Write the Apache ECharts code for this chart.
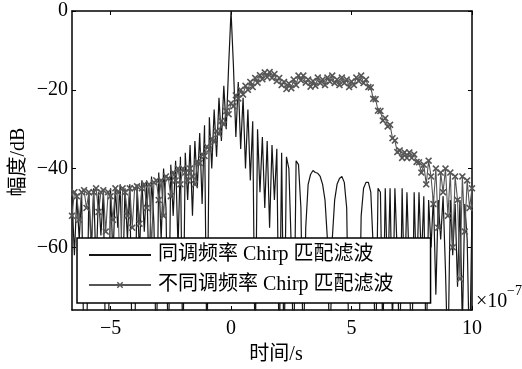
<!DOCTYPE html>
<html>
<head>
<meta charset="utf-8">
<script src="https://cdn.jsdelivr.net/npm/echarts@6/dist/echarts.min.js"></script>
<style>
  html, body { margin: 0; padding: 0; background: #fff; }
  #chart { width: 522px; height: 369px; }
</style>
</head>
<body>
<div id="chart"></div>
<script>
// Time axis in units of 1e-7 s, sampled every 0.1 from -6.6 to 10.0
const T_START = -6.6;
const T_STEP = 0.1;

// Matched-filter output (same chirp rate), dB
const matchedDb = [
  -47, -62, -47, -58, -46, -90, -88, -46, -60, -45,
  -66, -46, -57, -46, -90, -88, -45, -63, -45, -55,
  -44, -70, -45, -58, -44, -90, -86, -44, -62, -43,
  -56, -43, -68, -42, -54, -90, -41, -58, -40, -50,
  -90, -39, -52, -38, -60, -37, -90, -36, -48, -34,
  -52, -33, -45, -31, -49, -29, -90, -27, -40, -25,
  -37, -22, -33, -19, -30, -14, 0, -14, -32, -18,
  -35, -22, -40, -25, -43, -28, -90, -30, -46, -32,
  -50, -33, -55, -34, -48, -35, -90, -36, -90, -37,
  -40, -60, -90, -38, -39, -50, -90, -55, -44, -41.5,
  -40.5, -41, -41.2, -42, -44, -48, -58, -90, -58, -48,
  -44, -42.5, -42, -43.5, -50, -90, -95, -95, -95, -90,
  -52, -45, -43.5, -43.5, -46, -60, -90, -45, -46, -85,
  -45, -70, -45, -80, -45, -62, -90, -45, -72, -46,
  -66, -90, -46, -70, -46, -64, -47, -90, -48, -60,
  -47, -72, -48, -58, -47, -66, -90, -48, -62, -49,
  -70, -48, -80, -49, -58, -90, -50
];

// Mismatched-filter output (different chirp rate), dB
const mismatchedDb = [
  -52, -46, -47, -53, -46, -45.5, -50, -46, -62, -46,
  -45, -51, -46, -45.5, -56, -46, -47, -53, -45, -46,
  -70, -45, -46, -52, -45, -55, -45, -44.5, -54, -45,
  -44, -50, -44, -60, -43.5, -43, -48, -43, -52, -42,
  -42.5, -47, -41, -43, -40, -44, -40, -41, -43, -40,
  -42, -44, -38.4, -38.6, -36.4, -36.8, -34.4, -35.2, -32.4, -33.2,
  -30.4, -31.2, -27.9, -28.8, -25.4, -26.2, -23.4, -24.2, -21.4, -22.2,
  -20, -21.2, -19, -20, -18, -19.3, -17, -18.2, -16.3, -17.3,
  -15.6, -16.8, -15.5, -17, -16, -17.8, -17, -18.8, -18, -19.8,
  -18.4, -19.6, -17.4, -18.8, -16.4, -17.6, -16.4, -18.2, -17.4, -19.2,
  -17.8, -19, -16.9, -18.3, -17.4, -18.8, -16.9, -17.9, -16.4, -18.3,
  -17.4, -18.8, -16.9, -18.3, -17.4, -19.3, -17.9, -18.8, -16.9, -17.8,
  -16.4, -18.3, -17.4, -19.3, -19.4, -22.3, -22.4, -25.3, -25.4, -27.8,
  -27.2, -29.3, -28.9, -32.3, -32.9, -35.8, -35.4, -37.3, -35.9, -37.3,
  -35.9, -37.3, -36.4, -38.3, -38.4, -41, -39, -44, -38, -42,
  -49, -40, -55, -41, -46, -40, -52, -41, -60, -42,
  -48, -68, -42, -56, -43, -50, -45
];

const seriesNames = ['同调频率 Chirp 匹配滤波', '不同调频率 Chirp 匹配滤波'];
const xTicks = [-5, 0, 5, 10];
const yTicks = [-60, -40, -20, 0];

const FONT = "'Liberation Serif', 'Times New Roman', 'Noto Sans CJK SC', serif";

function sampleTime(i) {
  return Math.round((T_START + i * T_STEP) * 100) / 100;
}
function pairs(values) {
  return values.map((v, i) => [sampleTime(i), v]);
}
const minusFmt = v => String(v).replace('-', '\u2212');

// "x" marker drawn as a filled cross outline
const crossPath = 'path://M0,1.6L1.6,0L5,3.4L8.4,0L10,1.6L6.6,5L10,8.4L8.4,10L5,6.6L1.6,10L0,8.4L3.4,5Z';

const axisLineStyle = { color: '#000', width: 1.5 };

function xAxisCfg(pos, labels) {
  return {
    type: 'value', position: pos, min: -6.6, max: 10,
    axisLine: { show: true, onZero: false, lineStyle: axisLineStyle },
    axisTick: { show: true, inside: true, length: 4, customValues: xTicks, lineStyle: { color: '#000', width: 1 } },
    axisLabel: { show: labels, customValues: xTicks, formatter: minusFmt, color: '#000',
                 fontFamily: FONT, fontSize: 20, margin: 9 },
    splitLine: { show: false }
  };
}
function yAxisCfg(pos, labels) {
  return {
    type: 'value', position: pos, min: -75.9, max: 0,
    axisLine: { show: true, onZero: false, lineStyle: axisLineStyle },
    axisTick: { show: true, inside: true, length: 4, customValues: yTicks, lineStyle: { color: '#000', width: 1 } },
    axisLabel: { show: labels, customValues: yTicks, formatter: minusFmt, color: '#000',
                 fontFamily: FONT, fontSize: 20, margin: 4 },
    splitLine: { show: false }
  };
}

const chart = echarts.init(document.getElementById('chart'), null, { renderer: 'canvas' });
chart.setOption({
  animation: false,
  backgroundColor: '#fff',
  grid: { left: 72, right: 50, top: 11, bottom: 59, containLabel: false },
  xAxis: [xAxisCfg('bottom', true), xAxisCfg('top', false)],
  yAxis: [yAxisCfg('left', true), yAxisCfg('right', false)],
  legend: {
    orient: 'vertical', left: 77, top: 238,
    backgroundColor: '#fff', borderColor: '#000', borderWidth: 1.5, borderRadius: 0,
    padding: [7, 37, 8, 11], itemGap: 10, itemWidth: 62, itemHeight: 8,
    textStyle: { fontFamily: FONT, fontSize: 20, color: '#000', lineHeight: 20, padding: [0, 0, 0, 2] },
    data: seriesNames
  },
  graphic: [
    { type: 'text', x: 276, y: 355, style: { text: '时间/s', font: "20px " + FONT, fill: '#000', align: 'center', verticalAlign: 'middle' } },
    { type: 'text', x: 19, y: 162, rotation: Math.PI / 2, style: { text: '幅度/dB', font: "20px " + FONT, fill: '#000', align: 'center', verticalAlign: 'middle' } },
    { type: 'text', x: 476, y: 302, style: { text: '×10', font: "20px " + FONT, fill: '#000', align: 'left', verticalAlign: 'middle' } },
    { type: 'text', x: 507, y: 291, style: { text: '\u22127', font: "14px " + FONT, fill: '#000', align: 'left', verticalAlign: 'middle' } }
  ],
  series: [
    {
      name: seriesNames[0], type: 'line', xAxisIndex: 0, yAxisIndex: 0,
      data: pairs(matchedDb), symbol: 'none', showSymbol: false, clip: true,
      lineStyle: { color: '#151515', width: 1.2 }, itemStyle: { color: '#151515', opacity: 0 }, z: 2
    },
    {
      name: seriesNames[1], type: 'line', xAxisIndex: 0, yAxisIndex: 0,
      data: pairs(mismatchedDb), symbol: crossPath, symbolSize: 7, showSymbol: true, clip: true,
      lineStyle: { color: '#555', width: 1.1 }, itemStyle: { color: '#555', borderWidth: 0 }, z: 3
    }
  ]
});
</script>
</body>
</html>
